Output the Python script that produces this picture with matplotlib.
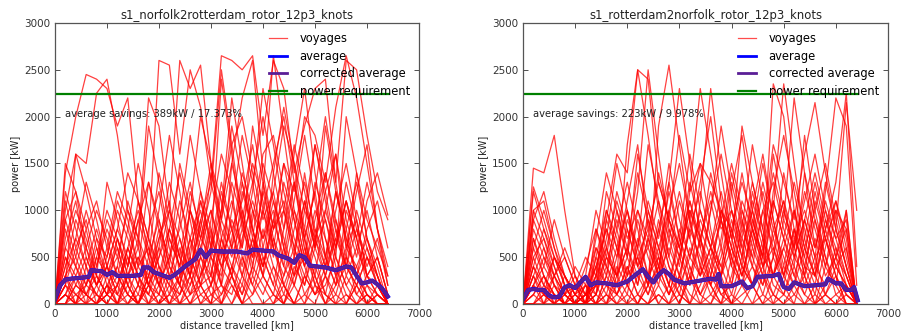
import numpy as np
import matplotlib
matplotlib.use("Agg")
import matplotlib.pyplot as plt
from matplotlib.lines import Line2D

# distance grid for the sampled voyages (km)
voyage_km = list(range(0, 6401, 200))

# Norfolk -> Rotterdam: power drawn per voyage (kW)
norfolk_voyages = [
    [0, 1400, 2000, 2450, 2400, 2300, 1900, 2200, 1100, 700, 2600, 2550, 1600, 2500, 2100, 1300, 2650, 2600, 2500, 2650, 1800, 2600, 2300, 1400, 1900, 2300, 2400, 1300, 2600, 2500, 1800, 1200, 900],
    [0, 200, 1600, 1500, 2250, 2400, 1800, 1000, 700, 2200, 1900, 1000, 2600, 2300, 2550, 1500, 900, 1500, 2200, 2600, 1400, 800, 1500, 1200, 2000, 1800, 1300, 2100, 2650, 2200, 1500, 800, 400],
    [0, 900, 1200, 800, 1100, 600, 300, 800, 1500, 1000, 400, 200, 900, 1800, 1200, 600, 1000, 1700, 2000, 1400, 900, 1200, 1900, 1500, 1000, 700, 1200, 1600, 900, 500, 1100, 1400, 950],
    [0, 1200, 800, 400, 200, 500, 1000, 700, 300, 100, 600, 1300, 900, 400, 800, 1500, 1100, 600, 300, 900, 1600, 1800, 1200, 700, 400, 900, 1400, 800, 300, 600, 1000, 500, 100],
    [0, 300, 500, 1000, 600, 200, 0, 400, 900, 1300, 800, 300, 100, 500, 1200, 800, 200, 700, 1400, 1000, 500, 200, 800, 1300, 700, 200, 500, 1000, 1500, 900, 300, 200, 0],
    [0, 500, 200, 100, 400, 900, 600, 200, 0, 300, 700, 1000, 500, 100, 300, 900, 1600, 1200, 500, 200, 600, 1100, 700, 300, 1000, 1700, 1100, 500, 200, 400, 700, 300, 0],
    [0, 100, 0, 300, 100, 0, 200, 600, 300, 0, 100, 400, 200, 0, 200, 500, 300, 1000, 1800, 1300, 600, 300, 0, 200, 600, 300, 0, 100, 500, 300, 100, 0, 0],
    [0, 0, 100, 0, 200, 400, 100, 0, 100, 500, 200, 0, 300, 700, 400, 100, 0, 400, 800, 500, 1200, 700, 200, 0, 300, 100, 400, 900, 500, 100, 0, 200, 0],
    [0, 600, 1000, 700, 300, 100, 200, 0, 200, 800, 1200, 600, 200, 1000, 2000, 1500, 700, 300, 100, 400, 1000, 1500, 2000, 1300, 600, 200, 100, 600, 1100, 700, 200, 100, 0],
    [0, 100, 300, 100, 0, 100, 400, 1100, 700, 200, 0, 100, 300, 100, 500, 300, 100, 400, 200, 700, 300, 100, 0, 300, 800, 500, 100, 0, 300, 100, 300, 100, 0],
    [0, 0, 0, 100, 300, 100, 0, 0, 200, 100, 0, 200, 100, 300, 0, 100, 200, 100, 500, 200, 0, 0, 300, 600, 300, 100, 200, 500, 200, 0, 100, 0, 0],
    [0, 200, 100, 0, 0, 200, 100, 300, 100, 0, 300, 0, 0, 100, 200, 0, 400, 200, 0, 100, 300, 100, 600, 200, 0, 400, 100, 0, 0, 200, 500, 300, 0],
    [0, 1500, 1200, 600, 300, 1300, 900, 400, 1100, 700, 300, 800, 1400, 900, 300, 600, 1300, 800, 1100, 1700, 1000, 500, 1000, 1700, 1200, 600, 1400, 900, 400, 1000, 600, 200, 0],
    [0, 400, 700, 1300, 900, 400, 800, 1400, 1100, 500, 900, 400, 200, 700, 1100, 600, 2400, 1600, 800, 1300, 2000, 1400, 800, 1600, 2300, 1400, 700, 300, 800, 1300, 700, 400, 0],
    [0, 0, 200, 500, 200, 0, 0, 100, 0, 200, 500, 800, 400, 200, 600, 1000, 500, 1300, 900, 300, 800, 400, 100, 500, 1100, 600, 900, 400, 100, 0, 200, 0, 0],
    [0, 300, 100, 200, 700, 500, 1100, 800, 400, 600, 200, 500, 1100, 700, 200, 0, 700, 400, 100, 600, 1000, 600, 1300, 900, 400, 100, 300, 700, 400, 200, 0, 100, 0],
    [0, 800, 400, 100, 0, 300, 600, 200, 0, 400, 1000, 1800, 1200, 500, 200, 300, 1000, 2200, 1500, 800, 300, 1400, 2100, 1500, 700, 1200, 2000, 1300, 600, 1200, 1700, 800, 200],
    [0, 0, 0, 0, 100, 0, 0, 300, 0, 0, 0, 100, 0, 0, 100, 200, 0, 0, 200, 0, 0, 100, 0, 0, 0, 200, 0, 0, 100, 0, 0, 0, 0],
    [0, 100, 0, 0, 0, 100, 0, 0, 0, 200, 0, 0, 0, 0, 0, 0, 100, 300, 0, 0, 0, 0, 100, 0, 0, 0, 0, 300, 0, 0, 100, 0, 0],
    [0, 200, 600, 300, 100, 0, 200, 500, 200, 0, 0, 300, 700, 300, 0, 200, 700, 1100, 600, 1900, 1300, 600, 200, 0, 300, 700, 400, 1200, 800, 300, 0, 0, 0],
    [0, 1000, 1600, 1200, 700, 300, 500, 200, 0, 300, 600, 300, 0, 300, 900, 400, 0, 300, 1200, 800, 400, 900, 500, 1100, 1800, 1100, 500, 200, 1000, 700, 300, 100, 0],
    [0, 0, 300, 0, 500, 1000, 700, 300, 600, 1900, 1300, 700, 400, 1000, 700, 1200, 2500, 1700, 900, 500, 1200, 2650, 1800, 1000, 500, 1300, 900, 500, 2000, 1400, 700, 300, 0],
    [0, 300, 0, 0, 0, 200, 400, 100, 0, 0, 200, 0, 100, 400, 100, 0, 0, 200, 0, 400, 200, 0, 200, 0, 100, 0, 300, 0, 0, 300, 100, 0, 0],
    [0, 500, 300, 600, 1000, 700, 300, 100, 400, 200, 100, 700, 400, 1000, 600, 200, 500, 800, 400, 1000, 700, 1200, 600, 300, 500, 1000, 700, 300, 500, 1400, 900, 600, 300],
    [0, 700, 1100, 500, 200, 600, 1200, 900, 400, 1300, 900, 400, 1500, 1000, 500, 1400, 900, 1900, 1300, 700, 1500, 1100, 600, 1300, 800, 1700, 1200, 600, 1100, 700, 1300, 800, 300],
    [0, 200, 0, 400, 800, 400, 100, 600, 1000, 600, 200, 800, 500, 1200, 800, 300, 900, 600, 1300, 800, 400, 900, 1500, 900, 400, 800, 500, 1200, 700, 300, 600, 300, 0],
    [0, 400, 900, 600, 200, 400, 800, 500, 200, 700, 400, 100, 600, 300, 900, 1300, 800, 500, 900, 1500, 1100, 600, 300, 800, 1300, 800, 400, 700, 1100, 600, 300, 500, 100],
    [0, 100, 400, 200, 600, 300, 0, 200, 500, 300, 800, 500, 200, 600, 1000, 500, 1200, 800, 300, 700, 400, 800, 1100, 600, 200, 600, 300, 800, 400, 200, 500, 200, 0],
    [0, 1100, 600, 900, 400, 800, 500, 1000, 600, 200, 500, 1000, 700, 300, 1100, 700, 400, 900, 600, 1200, 2300, 1700, 1000, 600, 1100, 600, 1900, 1200, 700, 300, 800, 1100, 600],
    [0, 0, 200, 100, 0, 100, 300, 100, 0, 300, 100, 0, 200, 0, 300, 600, 200, 0, 300, 100, 500, 200, 0, 400, 200, 700, 300, 100, 0, 200, 0, 100, 0],
    [0, 600, 400, 800, 300, 100, 700, 400, 900, 500, 1400, 900, 500, 300, 700, 500, 200, 1500, 1000, 600, 300, 700, 400, 1000, 700, 300, 1000, 600, 1300, 800, 500, 200, 0],
    [0, 300, 700, 400, 0, 200, 0, 300, 700, 400, 200, 500, 800, 1300, 700, 1000, 600, 300, 700, 1100, 700, 1000, 400, 200, 700, 1200, 500, 200, 400, 800, 400, 700, 200],
    [0, 900, 500, 200, 500, 300, 700, 300, 500, 200, 700, 1100, 300, 500, 200, 800, 400, 600, 1000, 400, 1300, 800, 1000, 500, 1400, 700, 1000, 1600, 600, 900, 300, 500, 100],
    [0, 100, 0, 200, 100, 400, 200, 600, 300, 100, 400, 200, 0, 200, 500, 200, 600, 300, 0, 300, 100, 400, 200, 500, 100, 300, 0, 200, 600, 400, 100, 0, 0],
]

# Rotterdam -> Norfolk: power drawn per voyage (kW)
rotterdam_voyages = [
    [0, 1450, 1400, 1800, 1000, 300, 100, 200, 900, 1600, 1400, 2500, 2400, 1300, 900, 1800, 1200, 1500, 1300, 1000, 600, 1900, 1300, 800, 1700, 1300, 900, 1600, 2150, 1400, 800, 2150, 1000],
    [0, 1250, 900, 500, 200, 0, 100, 700, 1400, 1000, 500, 1200, 2500, 1600, 800, 400, 1200, 2300, 1600, 900, 400, 1000, 700, 300, 1200, 1800, 1200, 600, 1000, 1500, 900, 400, 0],
    [0, 600, 300, 100, 0, 0, 0, 300, 1000, 700, 200, 600, 1700, 1100, 500, 200, 900, 1500, 800, 300, 1200, 1800, 1000, 400, 1000, 2350, 1500, 700, 300, 800, 1300, 2250, 400],
    [0, 200, 500, 300, 100, 200, 500, 300, 100, 500, 1100, 1700, 800, 300, 1300, 2300, 1500, 700, 200, 500, 1000, 600, 200, 700, 1400, 900, 2200, 1400, 600, 1100, 700, 300, 0],
    [0, 0, 100, 0, 200, 0, 0, 100, 400, 200, 0, 300, 700, 400, 100, 500, 1100, 600, 200, 0, 300, 800, 500, 1000, 600, 200, 0, 400, 900, 500, 100, 200, 0],
    [0, 900, 1200, 700, 300, 100, 300, 1000, 600, 200, 900, 600, 200, 1900, 2550, 1700, 900, 400, 1000, 1600, 1000, 500, 200, 600, 1100, 700, 300, 700, 1300, 800, 1100, 600, 0],
    [0, 100, 0, 200, 0, 0, 0, 0, 200, 100, 0, 100, 300, 0, 200, 0, 400, 100, 0, 300, 0, 100, 200, 0, 0, 300, 100, 0, 200, 0, 0, 100, 0],
    [0, 300, 100, 0, 100, 400, 200, 0, 0, 300, 600, 300, 100, 500, 200, 0, 300, 700, 400, 100, 200, 700, 1300, 800, 300, 100, 500, 300, 0, 400, 800, 400, 0],
    [0, 500, 700, 400, 100, 0, 0, 200, 700, 1500, 1000, 400, 100, 400, 900, 600, 200, 1100, 2300, 1400, 700, 300, 800, 1500, 900, 300, 600, 1100, 1600, 1000, 500, 1000, 0],
    [0, 0, 0, 100, 0, 0, 0, 0, 100, 0, 0, 0, 200, 0, 0, 100, 0, 0, 0, 200, 0, 0, 0, 100, 0, 0, 200, 0, 0, 0, 100, 0, 0],
    [0, 200, 400, 200, 0, 100, 400, 800, 400, 100, 300, 900, 500, 200, 700, 1200, 700, 300, 600, 400, 100, 500, 1200, 700, 300, 900, 600, 200, 500, 700, 300, 0, 0],
    [0, 700, 300, 100, 0, 200, 0, 0, 300, 800, 1300, 800, 300, 900, 400, 100, 600, 300, 1000, 1900, 1200, 600, 1000, 600, 200, 100, 400, 1400, 900, 400, 200, 1000, 0],
    [0, 0, 200, 100, 0, 0, 100, 400, 200, 0, 100, 0, 300, 600, 300, 100, 0, 200, 500, 200, 0, 400, 200, 0, 300, 600, 300, 100, 0, 200, 500, 100, 0],
    [0, 400, 200, 500, 300, 100, 200, 100, 600, 300, 1700, 2500, 1800, 1000, 500, 1100, 700, 1300, 2000, 1100, 400, 200, 900, 500, 2350, 2000, 1000, 400, 300, 1200, 2200, 1900, 200],
    [0, 100, 300, 100, 0, 0, 0, 500, 1000, 600, 200, 0, 200, 800, 1300, 700, 300, 100, 300, 700, 1400, 900, 400, 100, 500, 1000, 600, 1800, 1000, 500, 200, 0, 0],
    [0, 300, 0, 0, 100, 300, 100, 0, 0, 100, 400, 100, 0, 200, 0, 300, 100, 0, 300, 100, 0, 0, 200, 400, 100, 0, 100, 300, 0, 100, 0, 0, 0],
    [0, 1000, 1100, 600, 200, 0, 0, 200, 500, 300, 600, 1400, 900, 400, 100, 300, 800, 500, 200, 600, 1300, 800, 1700, 1100, 500, 200, 700, 400, 100, 600, 1100, 700, 0],
    [0, 0, 100, 0, 0, 200, 100, 0, 0, 0, 200, 0, 0, 100, 0, 0, 300, 0, 0, 0, 100, 0, 0, 300, 0, 100, 0, 0, 100, 0, 0, 200, 0],
    [0, 200, 0, 300, 600, 300, 0, 100, 0, 200, 500, 200, 1000, 600, 200, 700, 400, 100, 400, 900, 500, 200, 400, 200, 800, 500, 200, 900, 500, 100, 400, 200, 0],
    [0, 800, 500, 200, 0, 0, 100, 300, 1200, 800, 300, 500, 200, 400, 1000, 1500, 900, 400, 100, 300, 800, 400, 1000, 1600, 900, 400, 1000, 500, 200, 800, 400, 600, 0],
    [0, 0, 0, 0, 0, 100, 0, 0, 100, 0, 0, 0, 0, 100, 0, 200, 0, 0, 100, 0, 0, 200, 0, 0, 100, 0, 0, 0, 0, 100, 0, 0, 0],
    [0, 400, 800, 500, 200, 0, 0, 600, 300, 1000, 600, 200, 700, 300, 100, 500, 200, 700, 1100, 600, 200, 900, 500, 200, 500, 1400, 800, 300, 1100, 700, 300, 100, 0],
    [0, 900, 600, 300, 500, 200, 0, 400, 800, 500, 1000, 600, 1100, 700, 1500, 900, 500, 1000, 600, 1200, 700, 1400, 800, 500, 1100, 700, 1300, 800, 400, 900, 600, 300, 0],
    [0, 300, 600, 200, 100, 0, 200, 600, 400, 900, 500, 1600, 1000, 600, 1000, 600, 1300, 800, 500, 900, 1500, 1000, 600, 1200, 700, 300, 800, 500, 1200, 700, 1000, 500, 0],
    [0, 500, 200, 0, 300, 100, 0, 100, 500, 300, 800, 400, 600, 1100, 700, 300, 800, 1200, 700, 400, 900, 500, 1100, 700, 300, 600, 1000, 600, 300, 700, 400, 200, 0],
    [0, 1200, 800, 400, 100, 0, 0, 300, 600, 1100, 700, 1000, 600, 300, 800, 500, 1000, 600, 1400, 900, 500, 1100, 800, 400, 700, 1100, 700, 1000, 600, 1000, 700, 900, 0],
    [0, 200, 100, 300, 100, 0, 100, 200, 0, 400, 200, 500, 200, 800, 400, 200, 500, 300, 600, 300, 800, 400, 200, 500, 300, 700, 400, 100, 400, 200, 600, 200, 0],
    [0, 600, 1000, 600, 300, 100, 0, 800, 500, 1200, 800, 400, 900, 500, 1200, 700, 1600, 1000, 600, 1000, 600, 300, 700, 1300, 800, 1100, 500, 900, 500, 1300, 800, 400, 0],
    [0, 100, 300, 0, 0, 0, 200, 0, 300, 100, 400, 100, 0, 300, 600, 300, 0, 400, 200, 0, 500, 200, 600, 300, 100, 400, 200, 600, 300, 100, 300, 0, 0],
    [0, 700, 400, 900, 500, 200, 0, 500, 200, 600, 1000, 500, 800, 1300, 900, 500, 1000, 700, 300, 1000, 800, 1300, 900, 500, 1600, 1000, 600, 1200, 800, 400, 1000, 800, 0],
    [0, 400, 100, 500, 300, 0, 100, 400, 800, 300, 100, 700, 300, 500, 200, 800, 500, 900, 600, 300, 600, 300, 800, 400, 600, 300, 800, 300, 700, 300, 500, 300, 0],
    [0, 1000, 700, 300, 0, 0, 300, 100, 900, 600, 300, 1000, 700, 1400, 900, 600, 1100, 700, 1200, 800, 1000, 700, 400, 1000, 1300, 800, 500, 900, 1400, 900, 500, 800, 0],
]

# fleet average power along the route (kW)
norfolk_avg_km = [0, 100, 200, 300, 500, 650, 700, 900, 1000, 1100, 1200, 1500, 1650, 1700, 1800, 1900, 2000, 2200, 2300, 2500, 2700, 2800, 2900, 3000, 3200, 3500, 3700, 3800, 4200, 4300, 4500, 4600, 4700, 4800, 4900, 5200, 5400, 5600, 5700, 5800, 5900, 6000, 6100, 6200, 6300, 6400]
norfolk_avg = [50, 200, 260, 270, 280, 290, 360, 350, 310, 340, 300, 300, 310, 390, 390, 340, 320, 280, 310, 400, 480, 580, 500, 570, 560, 560, 540, 580, 560, 520, 480, 440, 520, 500, 410, 390, 360, 400, 390, 300, 220, 230, 250, 210, 160, 80]

rotterdam_avg_km = [0, 100, 200, 300, 400, 500, 600, 700, 800, 900, 1000, 1100, 1200, 1300, 1400, 1600, 1800, 2000, 2200, 2300, 2400, 2500, 2600, 2700, 2800, 2900, 3000, 3100, 3400, 3600, 3700, 3750, 3800, 4000, 4200, 4300, 4400, 4500, 4800, 4900, 5000, 5100, 5200, 5400, 5600, 5800, 5850, 6000, 6100, 6200, 6300, 6350, 6420]
rotterdam_avg = [50, 150, 160, 150, 150, 90, 70, 80, 180, 200, 170, 230, 290, 200, 230, 220, 200, 240, 330, 370, 290, 230, 310, 360, 320, 260, 240, 220, 250, 270, 260, 320, 190, 190, 240, 170, 190, 290, 300, 320, 180, 160, 230, 190, 200, 210, 270, 220, 220, 150, 150, 180, 40]

power_requirement = 2240
route_end_km = 6420

panels = [
    ("s1_norfolk2rotterdam_rotor_12p3_knots", norfolk_voyages,
     norfolk_avg_km, norfolk_avg, "average savings: 389kW / 17.373%"),
    ("s1_rotterdam2norfolk_rotor_12p3_knots", rotterdam_voyages,
     rotterdam_avg_km, rotterdam_avg, "average savings: 223kW / 9.978%"),
]

VOYAGE_RED = "red"
AVG_PURPLE = "#5a1e96"

fig = plt.figure(figsize=(9.04, 3.31), dpi=100)
fig.patch.set_facecolor("white")
ax_rects = [[0.0608, 0.0816, 0.4027, 0.849], [0.5785, 0.0816, 0.4038, 0.849]]

# legend keys use thinner strokes than the plotted averages
legend_handles = [
    Line2D([], [], color=VOYAGE_RED, lw=0.9, alpha=0.7, label="voyages"),
    Line2D([], [], color="blue", lw=2, label="average"),
    Line2D([], [], color=AVG_PURPLE, lw=2, label="corrected average"),
    Line2D([], [], color="green", lw=1.6, label="power requirement"),
]

for rect, (title, voyages, avg_km, avg, savings) in zip(ax_rects, panels):
    ax = fig.add_axes(rect)
    for v in voyages:
        ax.plot(voyage_km, v, color=VOYAGE_RED, lw=0.9, alpha=0.75)
    ax.plot(avg_km, avg, color="blue", lw=3)
    ax.plot(avg_km, avg, color=AVG_PURPLE, lw=2.5)
    ax.plot([0, route_end_km], [power_requirement] * 2, color="green", lw=1.6)
    ax.text(200, 2030, savings, fontsize=7.2, color="#222222", va="center")

    ax.set_xlim(0, 7000)
    ax.set_ylim(0, 3000)
    ax.set_xticks(range(0, 7001, 1000))
    ax.set_yticks(range(0, 3001, 500))
    ax.tick_params(direction="in", top=True, right=True, labelsize=7.5,
                   length=3.5, width=0.6, colors="#333333")
    for s in ax.spines.values():
        s.set_color("#555555")
        s.set_linewidth(0.9)
    ax.set_title(title, fontsize=8.4, pad=3, color="#222222")
    ax.set_xlabel("distance travelled [km]", fontsize=7, labelpad=1,
                  color="#222222")
    ax.set_ylabel("power [kW]", fontsize=7, labelpad=2, color="#222222")
    ax.legend(handles=legend_handles, loc="upper right", frameon=False,
              fontsize=8.3, handlelength=1.55, handletextpad=1.1,
              labelspacing=0.4, borderaxespad=0.4)

fig.savefig("out.png", dpi=100)
